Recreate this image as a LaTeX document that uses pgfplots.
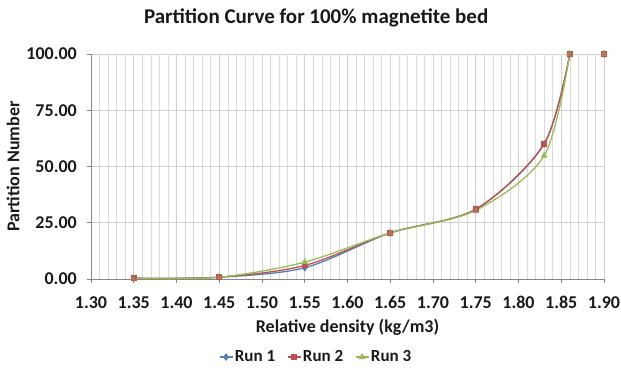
\documentclass[border=0pt]{standalone}
\usepackage{fontspec}
\setmainfont{Carlito}
\usepackage{pgfplots}
\pgfplotsset{compat=1.18}
\definecolor{xlblue}{HTML}{4F81BD}
\definecolor{xlred}{HTML}{C0504D}
\definecolor{xlgreen}{HTML}{9BBB59}
\definecolor{gridc}{HTML}{D0D0D0}
\definecolor{axc}{HTML}{868686}
\begin{document}
\begin{tikzpicture}
\useasboundingbox (-91bp,-96bp) rectangle (530bp,279bp);
\begin{axis}[
  at={(0,0)}, anchor=origin,
  scale only axis, width=513bp, height=225bp,
  xmin=1.30, xmax=1.90, ymin=0, ymax=100,
  xtick={1.30,1.35,...,1.91}, ytick={0,25,50,75,100},
  minor x tick num=4,
  xmajorgrids, ymajorgrids, xminorgrids,
  major grid style={gridc, line width=0.6bp},
  minor grid style={gridc!80, line width=0.5bp},
  axis x line*=bottom, axis y line*=left,
  axis line style={axc, line width=0.7bp},
  every tick/.style={axc, line width=0.7bp},
  major tick length=4bp, minor tick length=0bp,
  tick align=outside,
  x tick label style={/pgf/number format/.cd, fixed, fixed zerofill, precision=2, /tikz/.cd, font=\fontsize{18bp}{20bp}\selectfont\bfseries, text=black!90, anchor=base, inner sep=0pt},
  xticklabel shift=25bp,
  y tick label style={/pgf/number format/.cd, fixed, fixed zerofill, precision=2, /tikz/.cd, font=\fontsize{18bp}{20bp}\selectfont\bfseries, text=black!90, anchor=east, inner sep=0pt},
  yticklabel shift=10bp,
  /pgf/number format/assume math mode=true,
  xlabel={Relative density (kg/m3)},
  ylabel={Partition Number},
  xlabel style={at={(axis description cs:0.5,-0.213)}, anchor=center, font=\fontsize{18bp}{20bp}\selectfont\bfseries, text=black!90},
  ylabel style={at={(axis description cs:-0.152,0.5)}, anchor=center, font=\fontsize{18bp}{20bp}\selectfont\bfseries, text=black!90},
  title={Partition Curve for 100\% magnetite bed},
  title style={at={(axis description cs:0.439,1.135)}, anchor=center, font=\fontsize{21bp}{24bp}\selectfont\bfseries, text=black!90},
  legend style={at={(axis description cs:0.439,-0.347)}, anchor=center, draw=none, fill=none, legend columns=-1, font=\fontsize{17bp}{20bp}\selectfont\bfseries, text=black!90, /tikz/every even column/.append style={column sep=10bp}},
  legend image code/.code={\draw[mark repeat=2,mark phase=2] plot coordinates {(0cm,0cm) (0.22cm,0cm) (0.44cm,0cm)};},
  every axis plot/.append style={line width=1.3bp, smooth, tension=0.5},
  clip=false,
]
\addplot[xlblue, mark=diamond*, mark size=2.8bp, mark options={solid}] coordinates {
(1.35,0.3) (1.45,0.8) (1.55,5.0) (1.65,20.5) (1.75,31.0) (1.83,60.0) (1.86,100)};
\addlegendentry{Run 1}
\addplot[xlred, mark=square*, mark size=2.3bp] coordinates {
(1.35,0.3) (1.45,0.8) (1.55,6.0) (1.65,20.5) (1.75,31.0) (1.83,60.1) (1.86,100)};
\addlegendentry{Run 2}
\addplot[xlgreen, mark=triangle*, mark size=2.8bp] coordinates {
(1.35,0.3) (1.45,0.8) (1.55,7.5) (1.65,20.5) (1.75,30.5) (1.83,54.8) (1.86,100)};
\addlegendentry{Run 3}
\addplot[xlblue, only marks, mark=diamond*, mark size=2.8bp, forget plot] coordinates {(1.90,100)};
\addplot[xlred, only marks, mark=square*, mark size=2.3bp, forget plot] coordinates {(1.90,100)};
\addplot[xlgreen, only marks, mark=triangle*, mark size=2.8bp, forget plot] coordinates {(1.90,100)};
\addplot[xlred, only marks, mark=square*, mark size=2.3bp, forget plot, fill opacity=0.6, draw opacity=0.6] coordinates {(1.35,0.3) (1.45,0.8) (1.65,20.5) (1.75,30.8) (1.86,100) (1.90,100)};
\end{axis}
\end{tikzpicture}
\end{document}
